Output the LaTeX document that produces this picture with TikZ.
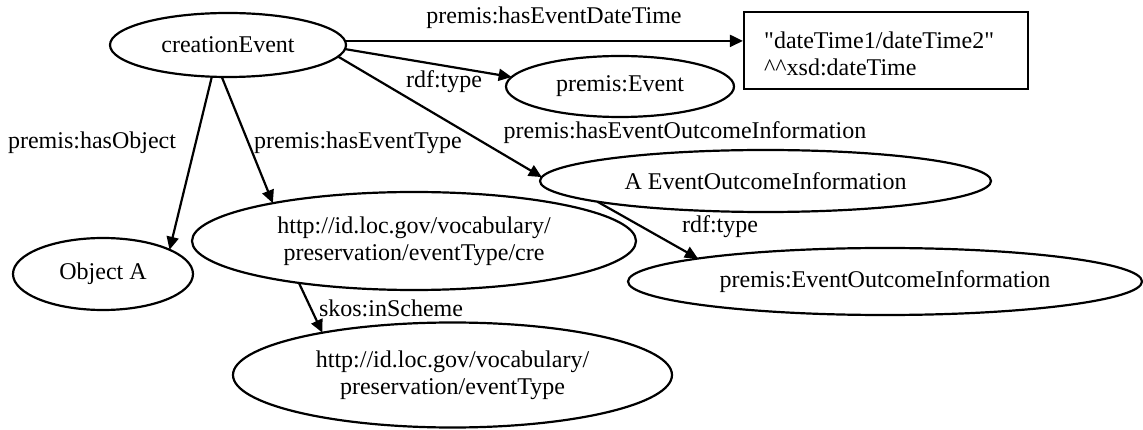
\documentclass[tikz,border=0pt]{standalone}
\usepackage{fontspec}
\setmainfont{Liberation Serif}
\usetikzlibrary{arrows.meta,shapes.geometric}
\tikzset{
  ell/.style={draw, ellipse, line width=2.2pt, inner sep=0pt, outer sep=0pt},
  lbl/.style={inner sep=0pt, align=center},
  edge/.style={line width=2.2pt, -{Triangle[length=13pt,width=12pt]}},
}
\begin{document}
\begin{tikzpicture}[x=1pt, y=-1pt, font=\fontsize{24}{27}\selectfont]
\useasboundingbox (0,0) rectangle (1143,430);
\node[ell, minimum width=236pt, minimum height=64pt, label={[lbl]center:creationEvent}] (ce) at (228,45) {};
\node[ell, minimum width=228pt, minimum height=61pt, label={[lbl]center:premis:Event}] (ev) at (620,86.5) {};
\node[draw, line width=2.2pt, minimum width=284pt, minimum height=77pt, inner sep=0pt] (dt) at (886,50.5) {};
\node[anchor=west, align=left, inner sep=0pt] (dtT) at (764,54) {\textquotedbl dateTime1/dateTime2\textquotedbl\\\textasciicircum\textasciicircum xsd:dateTime};
\node[ell, minimum width=451pt, minimum height=62pt, label={[lbl]center:A EventOutcomeInformation}] (eoi) at (765.5,181) {};
\node[ell, minimum width=514pt, minimum height=67pt, label={[lbl]center:premis:EventOutcomeInformation}] (peoi) at (885,281.5) {};
\node[ell, minimum width=180pt, minimum height=72pt, label={[lbl]center:Object A}] (oa) at (103,274) {};
\node[ell, minimum width=444pt, minimum height=98pt, label={[lbl]center:http://id.loc.gov/vocabulary/\\preservation/eventType/cre}] (cre) at (414,241) {};
\node[ell, minimum width=439pt, minimum height=105pt, label={[lbl]center:http://id.loc.gov/vocabulary/\\preservation/eventType}] (et) at (452.5,375) {};

\draw[edge] (ce.2) -- (ce.2 -| dt.west);
\draw[edge] (ce.-2.4) -- (ev.175.7);
\draw[edge] (ce.-6.6) -- (eoi.179.7);
\draw[edge] (ce.243.4) -- (oa.20.6);
\draw[edge] (ce.259.4) -- (cre.165);
\draw[edge] (cre.200.8) -- (et.162);
\draw[edge] (eoi.187.6) -- (peoi.173);

\node[lbl] (l1) at (554,18) {premis:hasEventDateTime};
\node[lbl] (l2) at (444,82) {rdf:type};
\node[lbl] (l3) at (685,133) {premis:hasEventOutcomeInformation};
\node[lbl] (l4) at (92,143) {premis:hasObject};
\node[lbl] (l5) at (358,143) {premis:hasEventType};
\node[lbl] (l6) at (391,308) {skos:inScheme};
\node[lbl] (l7) at (720,227) {rdf:type};
\end{tikzpicture}
\end{document}
